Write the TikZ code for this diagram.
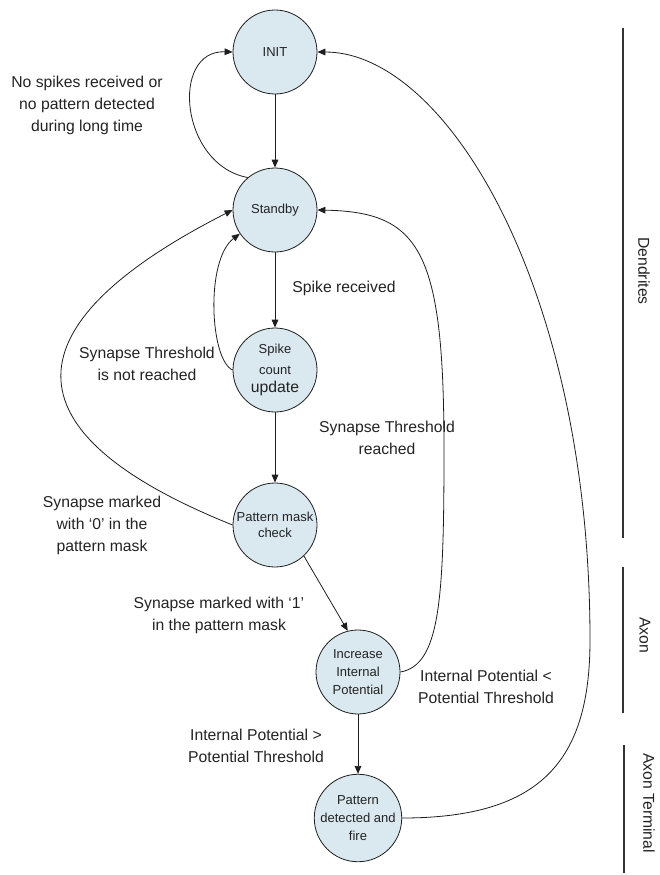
\documentclass[tikz,border=0pt]{standalone}
\usepackage{fontspec}
\setmainfont{Liberation Sans}
\usetikzlibrary{arrows.meta}
\definecolor{statefill}{RGB}{218,232,240}
\definecolor{edgecol}{RGB}{30,30,30}
\definecolor{textcol}{RGB}{35,35,35}
\begin{document}
\begin{tikzpicture}[x=0.75pt,y=-0.75pt,
  state/.style={circle, draw=edgecol, line width=0.6pt, fill=statefill, minimum size=63pt, inner sep=0pt, align=center, font=\fontsize{9.75}{13.5}\selectfont, text=textcol},
  edge/.style={draw=edgecol, line width=0.6pt, -{Triangle[length=6pt,width=5pt]}},
  lbl/.style={align=center, font=\fontsize{11.8}{16.5}\selectfont, text=textcol, inner sep=0pt},
  side/.style={draw=black!80, line width=1.2pt},
  sidelbl/.style={rotate=-90, font=\fontsize{11.8}{14}\selectfont, text=textcol, inner sep=0pt}]
\useasboundingbox (0,0) rectangle (660,875);

% states
\node[state] (init) at (275,52) {INIT};
\node[state] (sb) at (275,210) {Standby};
\node[state] (sc) at (275,370) {Spike\\[2pt]count\\[0pt]{\fontsize{11.8}{14}\selectfont update}};
\node[state, font=\fontsize{9.75}{11.8}\selectfont] (pm) at (275,525) {Pattern mask\\check};
\node[state] (ii) at (358,672) {Increase\\Internal\\Potential};
\node[state] (pd) at (358,818) {Pattern\\detected and\\fire};

% straight transitions
\draw[edge] (init) -- (sb);
\draw[edge] (sb) -- (sc);
\draw[edge] (sc) -- (pm);
\draw[edge] (pm.-47) -- (ii.104);
\draw[edge] (ii) -- (pd);

% curved transitions
\draw[edge] (sb.130) .. controls (180,165) and (170,50) .. (init.180);
\draw[edge] (sc.180) .. controls (210,360) and (205,260) .. (sb.-146);
\draw[edge] (pm.180) .. controls (-14,426) and (24,316) .. (sb.180);
\draw[edge] (ii.0) .. controls (440,665) and (444,600) .. (444,450) .. controls (444,250) and (420,212) .. (sb.0);
\draw[edge] (pd.0) .. controls (542,818) and (590,760) .. (590,640) .. controls (590,290) and (447,52) .. (init.0);

% labels
\node[lbl] (l1) at (87,105) {No spikes received or\\no pattern detected\\during long time};
\node[lbl] (l2) at (344,288) {Spike received};
\node[lbl] (l3) at (147,364) {Synapse Threshold\\is not reached};
\node[lbl] (l4) at (387,438) {Synapse Threshold\\reached};
\node[lbl] (l5) at (102,525) {Synapse marked\\with ‘0’ in the\\pattern mask};
\node[lbl] (l6) at (219,615) {Synapse marked with ‘1’\\in the pattern mask};
\node[lbl] (l7) at (486,687) {Internal Potential <\\Potential Threshold};
\node[lbl] (l8) at (256,746) {Internal Potential >\\Potential Threshold};

% side regions
\draw[side] (623,28) -- (623,538);
\draw[side] (623,567) -- (623,713);
\draw[side] (624,745) -- (624,873);
\node[sidelbl] (d) at (644,271) {Dendrites};
\node[sidelbl] (a) at (645,635) {Axon};
\node[sidelbl] (at) at (649,803) {Axon Terminal};
\end{tikzpicture}
\end{document}
